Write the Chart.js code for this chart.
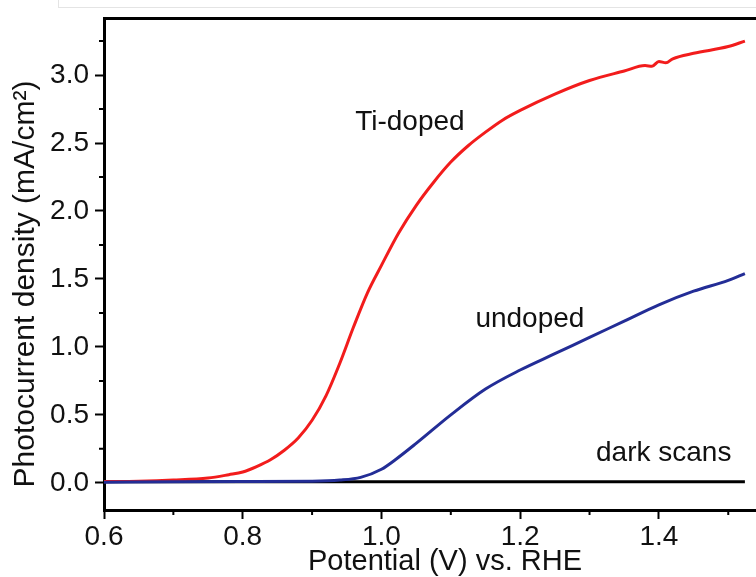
<!DOCTYPE html>
<html>
<head>
<meta charset="utf-8">
<script src="https://cdn.jsdelivr.net/npm/chart.js@4.4.1/dist/chart.umd.min.js"></script>
<style>
body { margin: 0; background: #fff; }
#wrap { position: relative; width: 756px; height: 577px; }
#ghost { position: absolute; left: 58px; top: -1px; width: 700px; height: 7px; border: 1px solid #e4e4e4; }
canvas { position: absolute; left: 0; top: 0; }
</style>
</head>
<body>
<div id="wrap">
<div id="ghost"></div>
<canvas id="myChart" width="756" height="577"></canvas>
</div>
<script>
// Ti-doped photocurrent (V vs RHE, mA/cm2)
const tiV = [0.60, 0.65, 0.70, 0.75, 0.78, 0.80, 0.82, 0.84, 0.86, 0.88, 0.90, 0.92, 0.94, 0.96, 0.98, 1.00, 1.025, 1.05, 1.075, 1.10, 1.125, 1.15, 1.175, 1.20, 1.25, 1.30, 1.35, 1.38, 1.39, 1.40, 1.41, 1.42, 1.45, 1.50, 1.524];
const tiI = [0.010, 0.012, 0.020, 0.035, 0.06, 0.08, 0.12, 0.17, 0.24, 0.33, 0.46, 0.64, 0.88, 1.15, 1.40, 1.60, 1.84, 2.04, 2.21, 2.36, 2.48, 2.58, 2.67, 2.74, 2.86, 2.96, 3.03, 3.07, 3.065, 3.10, 3.09, 3.12, 3.16, 3.21, 3.25];

// undoped
const unV = [0.60, 0.70, 0.80, 0.90, 0.94, 0.97, 1.00, 1.02, 1.05, 1.10, 1.15, 1.20, 1.25, 1.30, 1.35, 1.40, 1.45, 1.50, 1.524];
const unI = [0.005, 0.008, 0.010, 0.012, 0.02, 0.04, 0.10, 0.17, 0.29, 0.50, 0.69, 0.83, 0.95, 1.07, 1.19, 1.31, 1.41, 1.49, 1.54];

// dark scans
const darkV = [0.60, 1.524];
const darkI = [0.008, 0.008];

const xTicks = [0.6, 0.8, 1.0, 1.2, 1.4];
const xMinor = [0.7, 0.9, 1.1, 1.3, 1.5];
const yTicks = [0.0, 0.5, 1.0, 1.5, 2.0, 2.5, 3.0];
const yMinor = [0.25, 0.75, 1.25, 1.75, 2.25, 2.75, 3.25];

const labels = [
  {text: 'Ti-doped', x: 1.041, y: 2.65},
  {text: 'undoped', x: 1.214, y: 1.2},
  {text: 'dark scans', x: 1.407, y: 0.22}
];
const xTitle = 'Potential (V) vs. RHE';
const yTitle = 'Photocurrent density (mA/cm²)';

const toPts = (xs, ys) => xs.map((v, i) => ({x: v, y: ys[i]}));
const FONT = "'Liberation Sans', Arial, sans-serif";

const extras = {
  id: 'extras',
  afterDraw(chart) {
    const ctx = chart.ctx;
    const xs = chart.scales.x, ys = chart.scales.y;
    const area = chart.chartArea;
    ctx.save();
    // minor ticks
    ctx.strokeStyle = '#000';
    ctx.lineWidth = 2;
    ctx.beginPath();
    xMinor.forEach(v => {
      const px = xs.getPixelForValue(v);
      ctx.moveTo(px, area.bottom);
      ctx.lineTo(px, area.bottom + 5);
    });
    yMinor.forEach(v => {
      const py = ys.getPixelForValue(v);
      ctx.moveTo(area.left, py);
      ctx.lineTo(area.left - 5, py);
    });
    ctx.stroke();
    // curve labels
    ctx.fillStyle = '#111';
    ctx.font = '28px ' + FONT;
    ctx.textAlign = 'center';
    ctx.textBaseline = 'middle';
    labels.forEach(l => {
      ctx.fillText(l.text, xs.getPixelForValue(l.x), ys.getPixelForValue(l.y));
    });
    // axis titles (placed off-centre like the original)
    ctx.font = '29px ' + FONT;
    ctx.fillText(xTitle, 445, 562);
    ctx.translate(26, 284);
    ctx.rotate(-Math.PI / 2);
    ctx.font = '30px ' + FONT;
    ctx.fillText(yTitle, 0, 0);
    ctx.restore();
  }
};

const data = {
  datasets: [
    {
      label: 'undoped',
      data: toPts(unV, unI),
      borderColor: 'rgb(35,45,150)',
      borderWidth: 3,
      pointRadius: 0,
      cubicInterpolationMode: 'monotone',
      order: 0
    },
    {
      label: 'Ti-doped',
      data: toPts(tiV, tiI),
      borderColor: 'rgb(242,28,28)',
      borderWidth: 3,
      pointRadius: 0,
      cubicInterpolationMode: 'monotone',
      order: 1
    },
    {
      label: 'dark scans',
      data: toPts(darkV, darkI),
      borderColor: '#000',
      borderWidth: 3,
      pointRadius: 0,
      order: 2
    }
  ]
};

const config = {
  type: 'line',
  data: data,
  options: {
    responsive: false,
    animation: false,
    layout: { padding: 0 },
    plugins: {
      legend: { display: false },
      tooltip: { enabled: false }
    },
    scales: {
      x: {
        type: 'linear',
        position: 'bottom',
        min: 0.6,
        max: 1.54,
        afterBuildTicks: s => { s.ticks = xTicks.map(v => ({value: v})); },
        afterFit: s => { s.height = 67; s.paddingLeft = 0; s.paddingRight = 0; },
        ticks: {
          color: '#111',
          padding: 1,
          maxRotation: 0,
          font: { size: 28, family: FONT },
          callback: v => v.toFixed(1)
        },
        grid: {
          drawOnChartArea: false,
          tickLength: 9,
          tickWidth: 2,
          tickColor: '#000'
        },
        border: { color: '#000', width: 3 }
      },
      x2: {
        type: 'linear',
        position: 'top',
        min: 0.6,
        max: 1.54,
        afterFit: s => { s.height = 18; },
        ticks: { display: false },
        grid: { drawOnChartArea: false, drawTicks: false },
        border: { color: '#000', width: 3 }
      },
      y: {
        type: 'linear',
        min: -0.2,
        max: 3.42,
        afterBuildTicks: s => { s.ticks = yTicks.map(v => ({value: v})); },
        afterFit: s => { s.width = 104; s.paddingTop = 0; s.paddingBottom = 0; },
        ticks: {
          color: '#111',
          padding: 6,
          font: { size: 28, family: FONT },
          callback: v => v.toFixed(1)
        },
        grid: {
          drawOnChartArea: false,
          tickLength: 9,
          tickWidth: 2,
          tickColor: '#000'
        },
        border: { color: '#000', width: 3 }
      }
    }
  },
  plugins: [extras]
};

const myChart = new Chart(document.getElementById('myChart'), config);
</script>
</body>
</html>
